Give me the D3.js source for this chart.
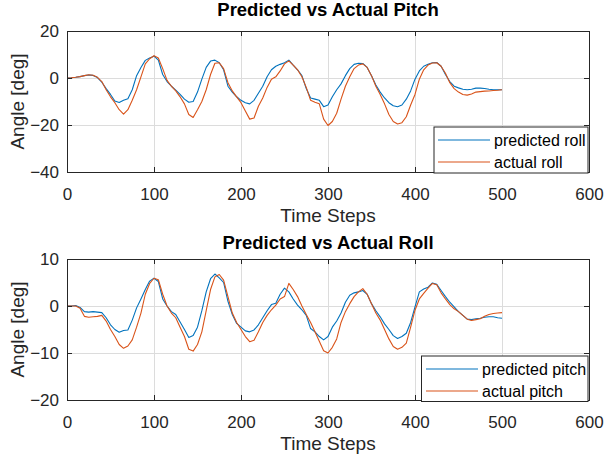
<!DOCTYPE html>
<html>
<head>
<meta charset="utf-8">
<script src="https://cdn.jsdelivr.net/npm/d3@7"></script>
<style>
html,body{margin:0;padding:0;background:#fff;}
svg{display:block;font-family:"Liberation Sans",Arial,sans-serif;}
</style>
</head>
<body>
<svg id="chart" width="605" height="458"></svg>
<script>
// ---- data ----
const timeSteps = d3.range(0, 501, 5);

const predictedRoll = [0,0.1,0.3,0.6,1.0,1.3,1.1,0.2,-1.8,-4.5,-7.0,-9.8,-10.4,-9.5,-8.8,-5.0,1.0,4.5,7.5,8.5,
9.3,7.6,1.5,-1.5,-3.5,-5.2,-7.0,-9.0,-10.3,-10.0,-6.0,-0.5,4.5,7.2,7.6,6.5,3.5,-3.5,-6.0,-8.0,
-9.5,-10.5,-11.0,-9.5,-6.5,-3.5,0.5,3.5,5.0,5.8,6.5,7.6,5.5,3.5,1.0,-4.5,-8.5,-9.0,-9.5,-12.2,
-11.5,-8.0,-5.0,-2.5,1.0,4.0,5.8,6.3,6.2,4.5,1.0,-3.0,-6.0,-8.5,-10.5,-11.8,-12.2,-11.5,-9.0,-5.5,
-0.5,3.0,5.0,5.8,6.5,6.6,5.0,1.5,-1.5,-3.5,-4.2,-4.8,-5.0,-4.8,-4.3,-4.3,-4.5,-4.8,-5.0,-5.0,-5.0];

const actualRoll = [0,0.1,0.3,0.6,1.0,1.4,1.2,0.3,-1.5,-5.0,-8.0,-10.5,-13.5,-15.4,-13.5,-9.5,-5.0,0.5,6.0,8.2,
9.5,8.5,4.0,-1.0,-3.5,-5.5,-8.0,-11.0,-15.5,-16.8,-13.5,-10.0,-5.0,1.5,6.3,6.5,4.0,-2.0,-5.5,-8.0,
-10.5,-14.0,-17.5,-17.0,-12.0,-8.5,-4.0,-0.5,0.5,3.0,6.0,7.3,5.5,3.5,0.5,-4.0,-9.5,-10.3,-11.0,-17.5,
-20.2,-18.5,-15.0,-9.0,-3.5,0.5,4.0,5.5,6.0,4.5,1.0,-3.5,-7.0,-11.0,-15.5,-18.5,-19.6,-19.0,-16.5,-11.5,
-7.0,-0.5,3.5,5.5,6.4,6.5,5.0,2.0,-2.0,-4.5,-6.0,-7.0,-7.3,-6.8,-6.0,-5.8,-5.6,-5.5,-5.3,-5.2,-5.0];

const predictedPitch = [0,0,0.1,-0.3,-1.2,-1.3,-1.2,-1.3,-1.4,-2.5,-4.0,-5.0,-5.6,-5.2,-5.1,-3.0,-0.4,1.5,3.5,5.3,
5.9,5.2,1.5,0.0,-1.2,-1.8,-3.4,-5.0,-6.7,-6.3,-4.5,-1.0,3.0,5.8,6.8,6.0,5.0,1.0,-1.8,-3.7,
-4.5,-5.3,-5.5,-5.1,-4.0,-2.5,-1.0,0.3,0.6,2.5,3.8,3.0,1.5,0.2,-0.8,-2.0,-4.8,-5.5,-6.5,-7.2,
-6.5,-4.5,-3.2,-1.5,0.8,2.3,2.8,3.0,3.3,2.5,0.5,-1.0,-2.3,-3.8,-5.0,-6.3,-6.9,-6.5,-5.8,-3.5,
-0.2,3.0,3.6,4.0,4.9,4.6,3.3,2.0,0.8,-0.2,-1.2,-2.0,-2.8,-2.9,-2.7,-2.6,-2.4,-2.3,-2.3,-2.5,-2.6];

const actualPitch = [0,0,0,-0.5,-2.2,-2.4,-2.3,-2.2,-2.0,-3.2,-5.0,-6.5,-8.2,-9.0,-8.5,-7.2,-4.5,-1.5,2.5,4.8,
5.9,5.6,2.5,0.0,-1.5,-2.5,-4.5,-6.5,-9.2,-9.6,-8.2,-5.5,-1.0,3.5,6.2,6.7,5.5,2.0,-1.5,-3.5,
-5.0,-6.5,-7.6,-7.3,-5.5,-3.5,-2.0,-0.8,0.2,1.5,2.0,4.8,3.5,2.0,0.0,-1.8,-3.5,-5.5,-7.5,-9.5,
-10.0,-8.8,-7.0,-3.5,-1.2,0.5,2.0,3.0,3.7,2.5,0.5,-1.5,-3.0,-5.0,-7.0,-8.6,-9.2,-8.8,-7.9,-4.5,
-0.9,1.5,2.7,3.8,4.8,4.5,2.8,1.5,0.3,-0.6,-1.2,-2.0,-2.8,-3.1,-2.9,-2.7,-2.2,-1.8,-1.6,-1.5,-1.4];

const xTicks = [0,100,200,300,400,500,600];
const yTicksTop = [-40,-20,0,20];
const yTicksBottom = [-20,-10,0,10];

const panels = [
  {title:"Predicted vs Actual Pitch", titleY:16, yDomain:[-40,20], yTicks:yTicksTop, top:31, bottom:172,
   pred:predictedRoll, act:actualRoll, labels:["predicted roll","actual roll"],
   legend:{x:434, y:127, w:154, h:46, line:[438,490], text:494}},
  {title:"Predicted vs Actual Roll", titleY:249, yDomain:[-20,10], yTicks:yTicksBottom, top:259, bottom:400,
   pred:predictedPitch, act:actualPitch, labels:["predicted pitch","actual pitch"],
   legend:{x:421.5, y:356, w:166.5, h:45.5, line:[426,478], text:482}}
];

const BLUE = "#0072BD", ORANGE = "#D95319", AXC = "#262626";
const svg = d3.select("#chart");
const left = 67, right = 589;

panels.forEach(p => {
  const x = d3.scaleLinear().domain([0,600]).range([left,right]);
  const y = d3.scaleLinear().domain(p.yDomain).range([p.bottom,p.top]);
  const g = svg.append("g");

  g.append("rect").attr("x",left).attr("y",p.top).attr("width",right-left).attr("height",p.bottom-p.top).attr("fill","#fff");

  // grid
  g.append("g").selectAll("line").data(xTicks.slice(1,-1)).join("line")
    .attr("x1",d=>x(d)+0.5).attr("x2",d=>x(d)+0.5).attr("y1",p.top).attr("y2",p.bottom)
    .attr("stroke","#dcdcdc").attr("stroke-width",1);
  g.append("g").selectAll("line").data(p.yTicks.slice(1,-1)).join("line")
    .attr("y1",d=>y(d)+0.5).attr("y2",d=>y(d)+0.5).attr("x1",left).attr("x2",right)
    .attr("stroke","#dcdcdc").attr("stroke-width",1);

  // lines
  const line = vals => d3.line().x((d,i)=>x(timeSteps[i])).y(d=>y(d))(vals);
  g.append("path").attr("d",line(p.pred)).attr("fill","none").attr("stroke",BLUE).attr("stroke-width",1.1).attr("stroke-linejoin","round");
  g.append("path").attr("d",line(p.act)).attr("fill","none").attr("stroke",ORANGE).attr("stroke-width",1.1).attr("stroke-linejoin","round");

  // axes (ticks inward, box)
  const xb = d3.axisBottom(x).tickValues(xTicks).tickSize(-5).tickPadding(16).tickFormat(d3.format("d"));
  const xt = d3.axisTop(x).tickValues(xTicks).tickSize(-5).tickFormat("");
  const yl = d3.axisLeft(y).tickValues(p.yTicks).tickSize(-5).tickPadding(8).tickFormat(d3.format("d"));
  const yr = d3.axisRight(y).tickValues(p.yTicks).tickSize(-5).tickFormat("");
  [[xb,`translate(0,${p.bottom})`],[xt,`translate(0,${p.top})`],[yl,`translate(${left},0)`],[yr,`translate(${right},0)`]]
    .forEach(([ax,tr]) => {
      const a = g.append("g").attr("transform",tr).call(ax);
      a.select(".domain").attr("stroke",AXC);
      a.selectAll(".tick line").attr("stroke",AXC);
      a.selectAll("text").attr("fill",AXC).style("font-size","17px").style("font-family","'Liberation Sans',Arial,sans-serif");
    });

  // title
  g.append("text").attr("x",(left+right)/2).attr("y",p.titleY).attr("text-anchor","middle")
    .style("font-size","18.5px").style("font-weight","bold").attr("fill","#000").text(p.title);
  // x label
  g.append("text").attr("x",(left+right)/2).attr("y",p.bottom+50).attr("text-anchor","middle")
    .style("font-size","19px").attr("fill",AXC).text("Time Steps");
  // y label
  g.append("text").attr("transform",`translate(24,${(p.top+p.bottom)/2}) rotate(-90)`).attr("text-anchor","middle")
    .style("font-size","19px").attr("fill",AXC).text("Angle [deg]");

  // legend
  const L = p.legend;
  g.append("rect").attr("x",L.x).attr("y",L.y).attr("width",L.w).attr("height",L.h)
    .attr("fill","#fff").attr("stroke",AXC).attr("stroke-width",1);
  [[BLUE,p.labels[0]],[ORANGE,p.labels[1]]].forEach(([c,t],i) => {
    const ly = L.y + 13 + i*22;
    g.append("line").attr("x1",L.line[0]).attr("x2",L.line[1]).attr("y1",ly).attr("y2",ly)
      .attr("stroke",c).attr("stroke-width",1.1);
    g.append("text").attr("x",L.text).attr("y",ly+6).style("font-size","16px").attr("fill","#000").text(t);
  });
});
</script>
</body>
</html>
